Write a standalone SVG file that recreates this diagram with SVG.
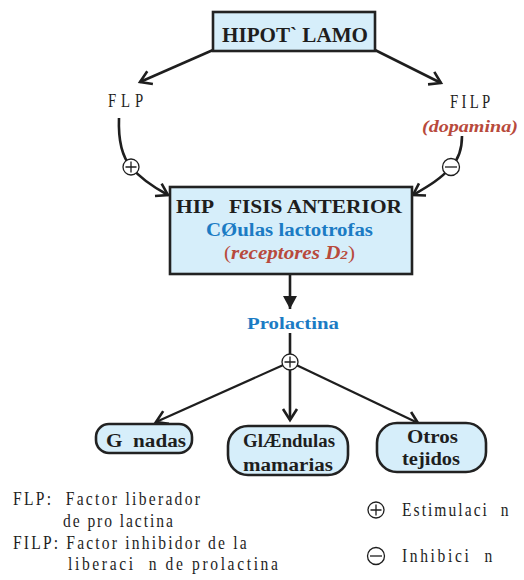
<svg xmlns="http://www.w3.org/2000/svg" width="524" height="580" viewBox="0 0 524 580" font-family="'Liberation Serif', 'Times New Roman', Times, serif">
<style>
text{font-family:'Liberation Serif','Times New Roman',Times,serif;fill:#1e1e1e;white-space:pre}
.b{font-weight:bold}
.box{fill:#d6eefa;stroke:#222;stroke-width:2.6}
.blue{fill:#1b7bc4}
.red{fill:#b84a3c;font-style:italic}
.ln{fill:none;stroke:#1e1e1e;stroke-width:2.6}
.thin{fill:none;stroke:#1e1e1e;stroke-width:2.2}
.sign{fill:#fff;stroke:#1e1e1e;stroke-width:1.3}
.sg{stroke:#1e1e1e;stroke-width:1.3}
.lg{font-size:19px}
</style>
<defs>
<marker id="chev" viewBox="-12 -8 14 16" markerWidth="14" markerHeight="16" refX="0" refY="0" orient="auto" markerUnits="userSpaceOnUse" overflow="visible">
<path d="M-11,-7 L0,0 L-11,7" fill="none" stroke="#1e1e1e" stroke-width="2.6"/>
</marker>
<marker id="tri" viewBox="-14 -8 16 16" markerWidth="16" markerHeight="16" refX="0" refY="0" orient="auto" markerUnits="userSpaceOnUse" overflow="visible">
<path d="M-13,-7 L0,0 L-13,7 Z" fill="#1e1e1e"/>
</marker>
<g id="plus"><circle r="8" class="sign"/><path d="M-5.5,0 H5.5 M0,-5.5 V5.5" class="sg"/></g>
<g id="minus"><circle r="8.5" class="sign"/><path d="M-6,0 H6" class="sg" stroke-width="3"/></g>
</defs>

<g id="connectors">
<path class="ln" d="M213,50 L140,82" marker-end="url(#chev)"/>
<path class="ln" d="M375,50 L441,83" marker-end="url(#chev)"/>
<path class="ln" d="M119,118 C118,145 124,159 131,167 C140,178 155,188 168,195" marker-end="url(#chev)"/>
<path class="ln" d="M462,136 C462,150 458,160 451,167 C440,180 425,188 413,195" marker-end="url(#chev)"/>
<path class="ln" d="M290,274 L290,309" marker-end="url(#tri)"/>
<path class="ln" d="M290,333 L290,355"/>
<path class="thin" d="M290,362 L156,422" marker-end="url(#chev)"/>
<path class="ln" d="M290,362 L290,420" marker-end="url(#chev)"/>
<path class="thin" d="M290,362 L418,423" marker-end="url(#chev)"/>
<use href="#plus" x="131" y="167"/>
<use href="#minus" x="451" y="167"/>
<use href="#plus" x="290" y="362"/>
</g>

<g id="hipotalamo">
<rect class="box" x="213" y="12" width="162" height="39"/>
<text class="b" x="222" y="42" font-size="20" textLength="146" lengthAdjust="spacingAndGlyphs">HIPOT` LAMO</text>
</g>

<g id="flp">
<text transform="translate(108,107) scale(0.82,1)" font-size="18" textLength="43" lengthAdjust="spacing">FLP</text>
</g>

<g id="filp">
<text transform="translate(450,108) scale(0.82,1)" font-size="18" textLength="49" lengthAdjust="spacing">FILP</text>
<text class="red b" x="422" y="132" font-size="17" textLength="96" lengthAdjust="spacingAndGlyphs">(dopamina)</text>
</g>

<g id="hipofisis">
<rect class="box" x="170" y="187" width="242" height="87"/>
<text class="b" x="176" y="213" font-size="19" textLength="226" lengthAdjust="spacingAndGlyphs">HIP   FISIS ANTERIOR</text>
<text class="b blue" x="206" y="236" font-size="18" textLength="167" lengthAdjust="spacingAndGlyphs">CØulas lactotrofas</text>
<text class="b red" x="224" y="259" font-size="18" textLength="131" lengthAdjust="spacingAndGlyphs"><tspan font-style="normal" font-weight="normal">(</tspan>receptores D<tspan font-size="13">2</tspan><tspan font-style="normal" font-weight="normal">)</tspan></text>
</g>

<g id="prolactina">
<text class="b blue" x="247" y="329" font-size="16" textLength="92" lengthAdjust="spacingAndGlyphs">Prolactina</text>
</g>

<g id="gonadas">
<rect class="box" x="96" y="424" width="96" height="29" rx="13" ry="13"/>
<text class="b" x="106" y="447" font-size="18" textLength="80" lengthAdjust="spacingAndGlyphs">G  nadas</text>
</g>

<g id="glandulas">
<rect class="box" x="228" y="426" width="120" height="49" rx="20" ry="20"/>
<text class="b" x="243" y="447" font-size="18" textLength="92" lengthAdjust="spacingAndGlyphs">GlÆndulas</text>
<text class="b" x="243" y="471" font-size="18" textLength="90" lengthAdjust="spacingAndGlyphs">mamarias</text>
</g>

<g id="otros">
<rect class="box" x="377" y="423" width="109" height="49" rx="20" ry="20"/>
<text class="b" x="407" y="443" font-size="18" textLength="51" lengthAdjust="spacingAndGlyphs">Otros</text>
<text class="b" x="402" y="465" font-size="18" textLength="58" lengthAdjust="spacingAndGlyphs">tejidos</text>
</g>

<g id="legend">
<text class="lg" transform="translate(13,505) scale(0.82,1)" textLength="228" lengthAdjust="spacing">FLP:  Factor liberador</text>
<text class="lg" transform="translate(63,527) scale(0.82,1)" textLength="134" lengthAdjust="spacing">de pro lactina</text>
<text class="lg" transform="translate(13,549) scale(0.82,1)" textLength="285" lengthAdjust="spacing">FILP: Factor inhibidor de la</text>
<text class="lg" transform="translate(68,570) scale(0.82,1)" textLength="256" lengthAdjust="spacing">liberaci  n de prolactina</text>
<use href="#plus" x="376" y="510"/>
<text class="lg" transform="translate(402,516) scale(0.82,1)" textLength="130" lengthAdjust="spacing">Estimulaci  n</text>
<use href="#minus" x="376" y="556"/>
<text class="lg" transform="translate(402,562) scale(0.82,1)" textLength="110" lengthAdjust="spacing">Inhibici  n</text>
</g>
</svg>
